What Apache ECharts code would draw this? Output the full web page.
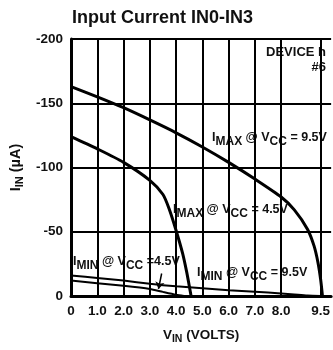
<!DOCTYPE html>
<html><head><meta charset="utf-8">
<script src="https://cdn.jsdelivr.net/npm/echarts@6/dist/echarts.min.js"></script>
<style>html,body{margin:0;padding:0;background:#fff}#c{width:333px;height:350px}</style>
</head><body><div id="c"></div>
<script>
// ---- data ----
const xTickValues = [0, 1, 2, 3, 4, 5, 6, 7, 8, 9.5];
const xTickLabels = ['0', '1.0', '2.0', '3.0', '4.0', '5.0', '6.0', '7.0', '8.0', '9.5'];
const yTickValues = [-200, -150, -100, -50, 0];
const imax95 = [[0,-163],[1,-155],[2,-146.5],[3,-137],[4,-127],[5,-116],[6,-104],[7,-91],[8,-77],[8.5,-67],[9,-52],[9.25,-39],[9.4,-26],[9.5,-13],[9.57,0]];
const imax45 = [[0,-124],[1,-114.5],[2,-104],[3,-90],[3.5,-79],[3.75,-67],[4,-51],[4.25,-33],[4.4,-19],[4.5,-8],[4.57,0]];
const imin95 = [[0,-16],[1,-14],[2,-12],[3,-9.5],[4,-7.5],[5,-6],[6,-4.5],[7,-3.3],[8,-2],[8.5,-1.2],[9,-0.4],[9.5,0]];
const imin45 = [[0,-12],[1,-10],[2,-8],[3,-5.5],[3.5,-3.2],[4,-1],[4.3,0]];
const arrowFrom = [3.45, -17.5];
const arrowTo = [3.33, -5.5];

const F = "'Liberation Sans Narrow','Arial Narrow','Liberation Sans',Arial,sans-serif";
const chart = echarts.init(document.getElementById('c'), null, {renderer: 'canvas'});

const rich = {
  n: {fontSize: 12.5, fontWeight: 'bold', fontFamily: F, color: '#111', verticalAlign: 'top', lineHeight: 18},
  s: {fontSize: 12, fontWeight: 'bold', fontFamily: F, color: '#111', verticalAlign: 'top', lineHeight: 18, padding: [5, 0, 0, 0]}
};
function lbl(main, sub, rest) {
  return '{n|' + main + '}{s|' + sub + '}{n| @ V}{s|CC}{n|' + rest + '}';
}
function txt(text, x, y) {
  return {type: 'text', x: x, y: y, style: {text: text, rich: rich, fill: '#111'}};
}

const lineStyleBold = {color: '#000', width: 3};
const lineStyleThin = {color: '#000', width: 2};

chart.setOption({
  animation: false,
  backgroundColor: '#fff',
  title: {
    text: 'Input Current IN0-IN3', left: 67, top: 4,
    textStyle: {fontFamily: F, fontWeight: 'bold', fontSize: 18, color: '#111'}
  },
  grid: {left: 71, right: 0, top: 39, bottom: 52},
  xAxis: {
    type: 'value', min: 0, max: 9.9,
    name: 'V{s|IN} (VOLTS)', nameLocation: 'middle', nameGap: 30,
    nameTextStyle: {fontFamily: F, fontWeight: 'bold', fontSize: 13.5, color: '#111',
      rich: {s: {fontFamily: F, fontWeight: 'bold', fontSize: 10.5, color: '#111', padding: [8, 0, 0, 0]}}},
    axisLine: {show: true, onZero: false, lineStyle: {color: '#000', width: 3}},
    axisTick: {show: false},
    splitLine: {show: false},
    axisLabel: {
      customValues: xTickValues, margin: 8,
      fontFamily: F, fontWeight: 'bold', fontSize: 13.5, color: '#111',
      formatter: function (v) { const i = xTickValues.indexOf(v); return i >= 0 ? xTickLabels[i] : ''; }
    }
  },
  yAxis: {
    type: 'value', min: -200, max: 0, interval: 50, inverse: true,
    name: 'I{s|IN} (µA)', nameLocation: 'middle', nameGap: 46, nameRotate: 90,
    nameTextStyle: {fontFamily: F, fontWeight: 'bold', fontSize: 14.5, color: '#111',
      rich: {s: {fontFamily: F, fontWeight: 'bold', fontSize: 11, color: '#111', padding: [8, 0, 0, 0]}}},
    axisLine: {show: true, lineStyle: {color: '#000', width: 3}},
    axisTick: {show: false},
    splitLine: {show: true, lineStyle: {color: '#000', width: 2}},
    axisLabel: {
      customValues: yTickValues, margin: 8,
      fontFamily: F, fontWeight: 'bold', fontSize: 13.5, color: '#111'
    }
  },
  series: [
    {
      type: 'line', data: imax95, symbol: 'none', smooth: 0.25, lineStyle: lineStyleBold, z: 5,
      markLine: {
        silent: true, symbol: 'none', label: {show: false},
        lineStyle: {color: '#000', width: 2, type: 'solid'},
        data: xTickValues.map(v => ({xAxis: v}))
      }
    },
    {type: 'line', data: imax45, symbol: 'none', smooth: 0.25, lineStyle: lineStyleBold, z: 5},
    {type: 'line', data: imin95, symbol: 'none', smooth: 0.25, lineStyle: lineStyleThin, z: 5},
    {
      type: 'line', data: imin45, symbol: 'none', smooth: 0.25, lineStyle: lineStyleThin, z: 5,
      markLine: {
        silent: true, symbol: ['none', 'arrow'], symbolSize: 7, label: {show: false},
        lineStyle: {color: '#000', width: 1.5, type: 'solid'},
        data: [[{coord: arrowFrom}, {coord: arrowTo}]]
      }
    }
  ],
  graphic: [
    {type: 'text', right: 7, top: 46, style: {text: 'DEVICE h', fontFamily: F, fontWeight: 'bold', fontSize: 13, fill: '#111'}},
    {type: 'text', right: 7, top: 61, style: {text: '#6', fontFamily: F, fontWeight: 'bold', fontSize: 13, fill: '#111'}},
    txt(lbl('I', 'MAX', ' = 9.5V'), 212, 131),
    txt(lbl('I', 'MAX', ' = 4.5V'), 173, 203),
    txt(lbl('I', 'MIN', ' =4.5V'), 73, 255),
    txt(lbl('I', 'MIN', ' = 9.5V'), 197, 266)
  ]
});
</script></body></html>
